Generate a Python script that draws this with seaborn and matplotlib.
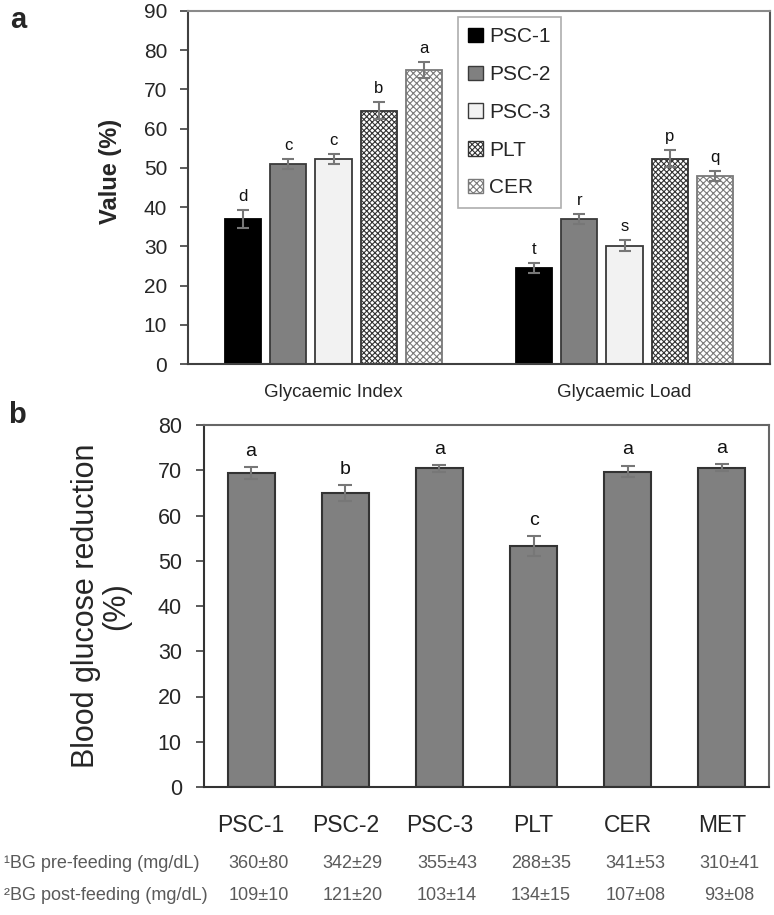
import matplotlib
matplotlib.use("Agg")
import matplotlib.pyplot as plt
import seaborn as sns
import pandas as pd
from matplotlib.patches import Patch
from matplotlib.transforms import blended_transform_factory

sns.set_style("white")
plt.rcParams['font.family'] = ['Liberation Sans', 'DejaVu Sans']
plt.rcParams['hatch.linewidth'] = 0.8

# ---------------- data ----------------
metrics = ["Glycaemic Index", "Glycaemic Load"]
samples = ["PSC-1", "PSC-2", "PSC-3", "PLT", "CER"]
gi_values = [37.0, 51.0, 52.3, 64.6, 75.0]
gi_errors = [2.2, 1.2, 1.2, 2.2, 2.0]
gi_letters = ["d", "c", "c", "b", "a"]
gl_values = [24.5, 37.0, 30.2, 52.3, 47.9]
gl_errors = [1.2, 1.3, 1.3, 2.2, 1.3]
gl_letters = ["t", "r", "s", "p", "q"]

treatments = ["PSC-1", "PSC-2", "PSC-3", "PLT", "CER", "MET"]
reduction = [69.4, 64.9, 70.4, 53.2, 69.7, 70.6]
reduction_err = [1.3, 1.8, 0.8, 2.2, 1.3, 0.8]
reduction_letters = ["a", "b", "a", "c", "a", "a"]
bg_pre = ["360±80", "342±29", "355±43", "288±35", "341±53", "310±41"]
bg_post = ["109±10", "121±20", "103±14", "134±15", "107±08", "93±08"]

# ---------------- styles ----------------
fills = {"PSC-1": "#000000", "PSC-2": "#808080", "PSC-3": "#f2f2f2",
         "PLT": "#ffffff", "CER": "#ffffff"}
hatches = {"PSC-1": "", "PSC-2": "", "PSC-3": "", "PLT": "xxxxxx", "CER": "xxxxx"}
edges = {"PSC-1": "#000000", "PSC-2": "#3a3a3a", "PSC-3": "#3a3a3a",
         "PLT": "#333333", "CER": "#7a7a7a"}
err_color = "#777777"

fig = plt.figure(figsize=(7.74, 9.15), dpi=100)
ax_a = fig.add_axes([188 / 774, 1 - 364 / 915, 582 / 774, 353 / 915])
ax_b = fig.add_axes([204 / 774, 1 - 787 / 915, 565 / 774, 362 / 915])

# ---------------- panel a ----------------
rows = []
for s, gi, gl in zip(samples, gi_values, gl_values):
    rows.append({"metric": metrics[0], "sample": s, "value": gi})
    rows.append({"metric": metrics[1], "sample": s, "value": gl})
df_a = pd.DataFrame(rows)

sns.barplot(data=df_a, x="metric", y="value", hue="sample", order=metrics,
            hue_order=samples, palette=fills, width=0.775, gap=0.2,
            errorbar=None, legend=False, ax=ax_a, linewidth=1.3,
            edgecolor="#3a3a3a", saturation=1)

vals = [gi_values, gl_values]
errs = [gi_errors, gl_errors]
lets = [gi_letters, gl_letters]
for h, s in enumerate(samples):
    for m in range(2):
        p = ax_a.patches[h * 2 + m]
        p.set_hatch(hatches[s])
        p.set_edgecolor(edges[s])
        xc = p.get_x() + p.get_width() / 2
        v, e = vals[m][h], errs[m][h]
        ax_a.errorbar(xc, v, yerr=e, fmt="none", ecolor=err_color,
                      elinewidth=1.5, capsize=4, capthick=1.5, zorder=5)
        ax_a.text(xc, v + e + 1.6, lets[m][h], ha="center", va="bottom",
                  fontsize=12, color="#111111")

ax_a.set_ylim(0, 90)
ax_a.set_xlim(-0.5, 1.5)
ax_a.set_yticks(range(0, 91, 10))
ax_a.set_xlabel("")
ax_a.set_ylabel("Value (%)", fontsize=17, fontweight="bold")
ax_a.yaxis.set_label_coords(-0.134, 0.545)
ax_a.yaxis.label.set_va("center")
ax_a.tick_params(axis="y", left=True, direction="out", length=6, width=1.2,
                 color="#404040", labelsize=15, pad=9)
ax_a.tick_params(axis="x", bottom=False, labelsize=13.5, pad=11)
for side, col in [("left", "#404040"), ("bottom", "#404040"),
                  ("top", "#8a8a8a"), ("right", "#555555")]:
    ax_a.spines[side].set_visible(True)
    ax_a.spines[side].set_color(col)
    ax_a.spines[side].set_linewidth(1.5)

handles = [Patch(facecolor=fills[s], edgecolor=edges[s], hatch=hatches[s],
                 linewidth=1.0) for s in samples]
leg = ax_a.legend(handles, samples, loc="upper left",
                  bbox_to_anchor=((458 - 188) / 582, (364 - 17) / 353),
                  fontsize=15, frameon=True, fancybox=False,
                  handlelength=0.7, handleheight=0.7, handletextpad=0.3,
                  labelspacing=0.9, borderpad=0.5, borderaxespad=0)
leg.get_frame().set_edgecolor("#9a9a9a")
leg.get_frame().set_linewidth(1.2)

# ---------------- panel b ----------------
df_b = pd.DataFrame({"treatment": treatments, "reduction": reduction})
sns.barplot(data=df_b, x="treatment", y="reduction", order=treatments,
            color="#808080", saturation=1, width=0.5, errorbar=None,
            edgecolor="#333333", linewidth=1.5, ax=ax_b)
for i, p in enumerate(ax_b.patches):
    xc = p.get_x() + p.get_width() / 2
    v, e = reduction[i], reduction_err[i]
    ax_b.errorbar(xc, v, yerr=e, fmt="none", ecolor=err_color,
                  elinewidth=1.5, capsize=5, capthick=1.5, zorder=5)
    ax_b.text(xc, v + e + 1.6, reduction_letters[i], ha="center",
              va="bottom", fontsize=14, color="#111111")

ax_b.set_ylim(0, 80)
ax_b.set_xlim(-0.5, 5.5)
ax_b.set_yticks(range(0, 81, 10))
ax_b.set_xlabel("")
ax_b.set_ylabel("Blood glucose reduction\n(%)", fontsize=22,
                multialignment="center", linespacing=1.0)
ax_b.yaxis.set_label_coords(-0.182, 0.5)
ax_b.yaxis.label.set_va("center")
ax_b.tick_params(axis="y", left=True, direction="out", length=6, width=1.2,
                 color="#404040", labelsize=15.5, pad=10)
ax_b.tick_params(axis="x", bottom=False, labelsize=16.5, pad=16)
for side, col in [("left", "#333333"), ("bottom", "#333333"),
                  ("top", "#666666"), ("right", "#666666")]:
    ax_b.spines[side].set_visible(True)
    ax_b.spines[side].set_color(col)
    ax_b.spines[side].set_linewidth(1.5)

# ---------------- table below panel b ----------------
tcol = "#5a5a5a"
trans = blended_transform_factory(ax_b.transData, fig.transFigure)
y1 = 1 - 864 / 915
y2 = 1 - 896 / 915
fig.text(4 / 774, y1, "¹BG pre-feeding (mg/dL)", ha="left", va="center",
         fontsize=13, color=tcol)
fig.text(4 / 774, y2, "²BG post-feeding (mg/dL)", ha="left", va="center",
         fontsize=13, color=tcol)
for i in range(len(treatments)):
    ax_b.text(i + 0.08, y1, bg_pre[i], transform=trans, ha="center",
              va="center", fontsize=13, color=tcol)
    ax_b.text(i + 0.08, y2, bg_post[i], transform=trans, ha="center",
              va="center", fontsize=13, color=tcol)

# panel labels
fig.text(10 / 774, 1 - 28 / 915, "a", fontsize=21, fontweight="bold",
         ha="left", va="baseline")
fig.text(8 / 774, 1 - 423 / 915, "b", fontsize=21, fontweight="bold",
         ha="left", va="baseline")

fig.savefig("out.png", dpi=100)
